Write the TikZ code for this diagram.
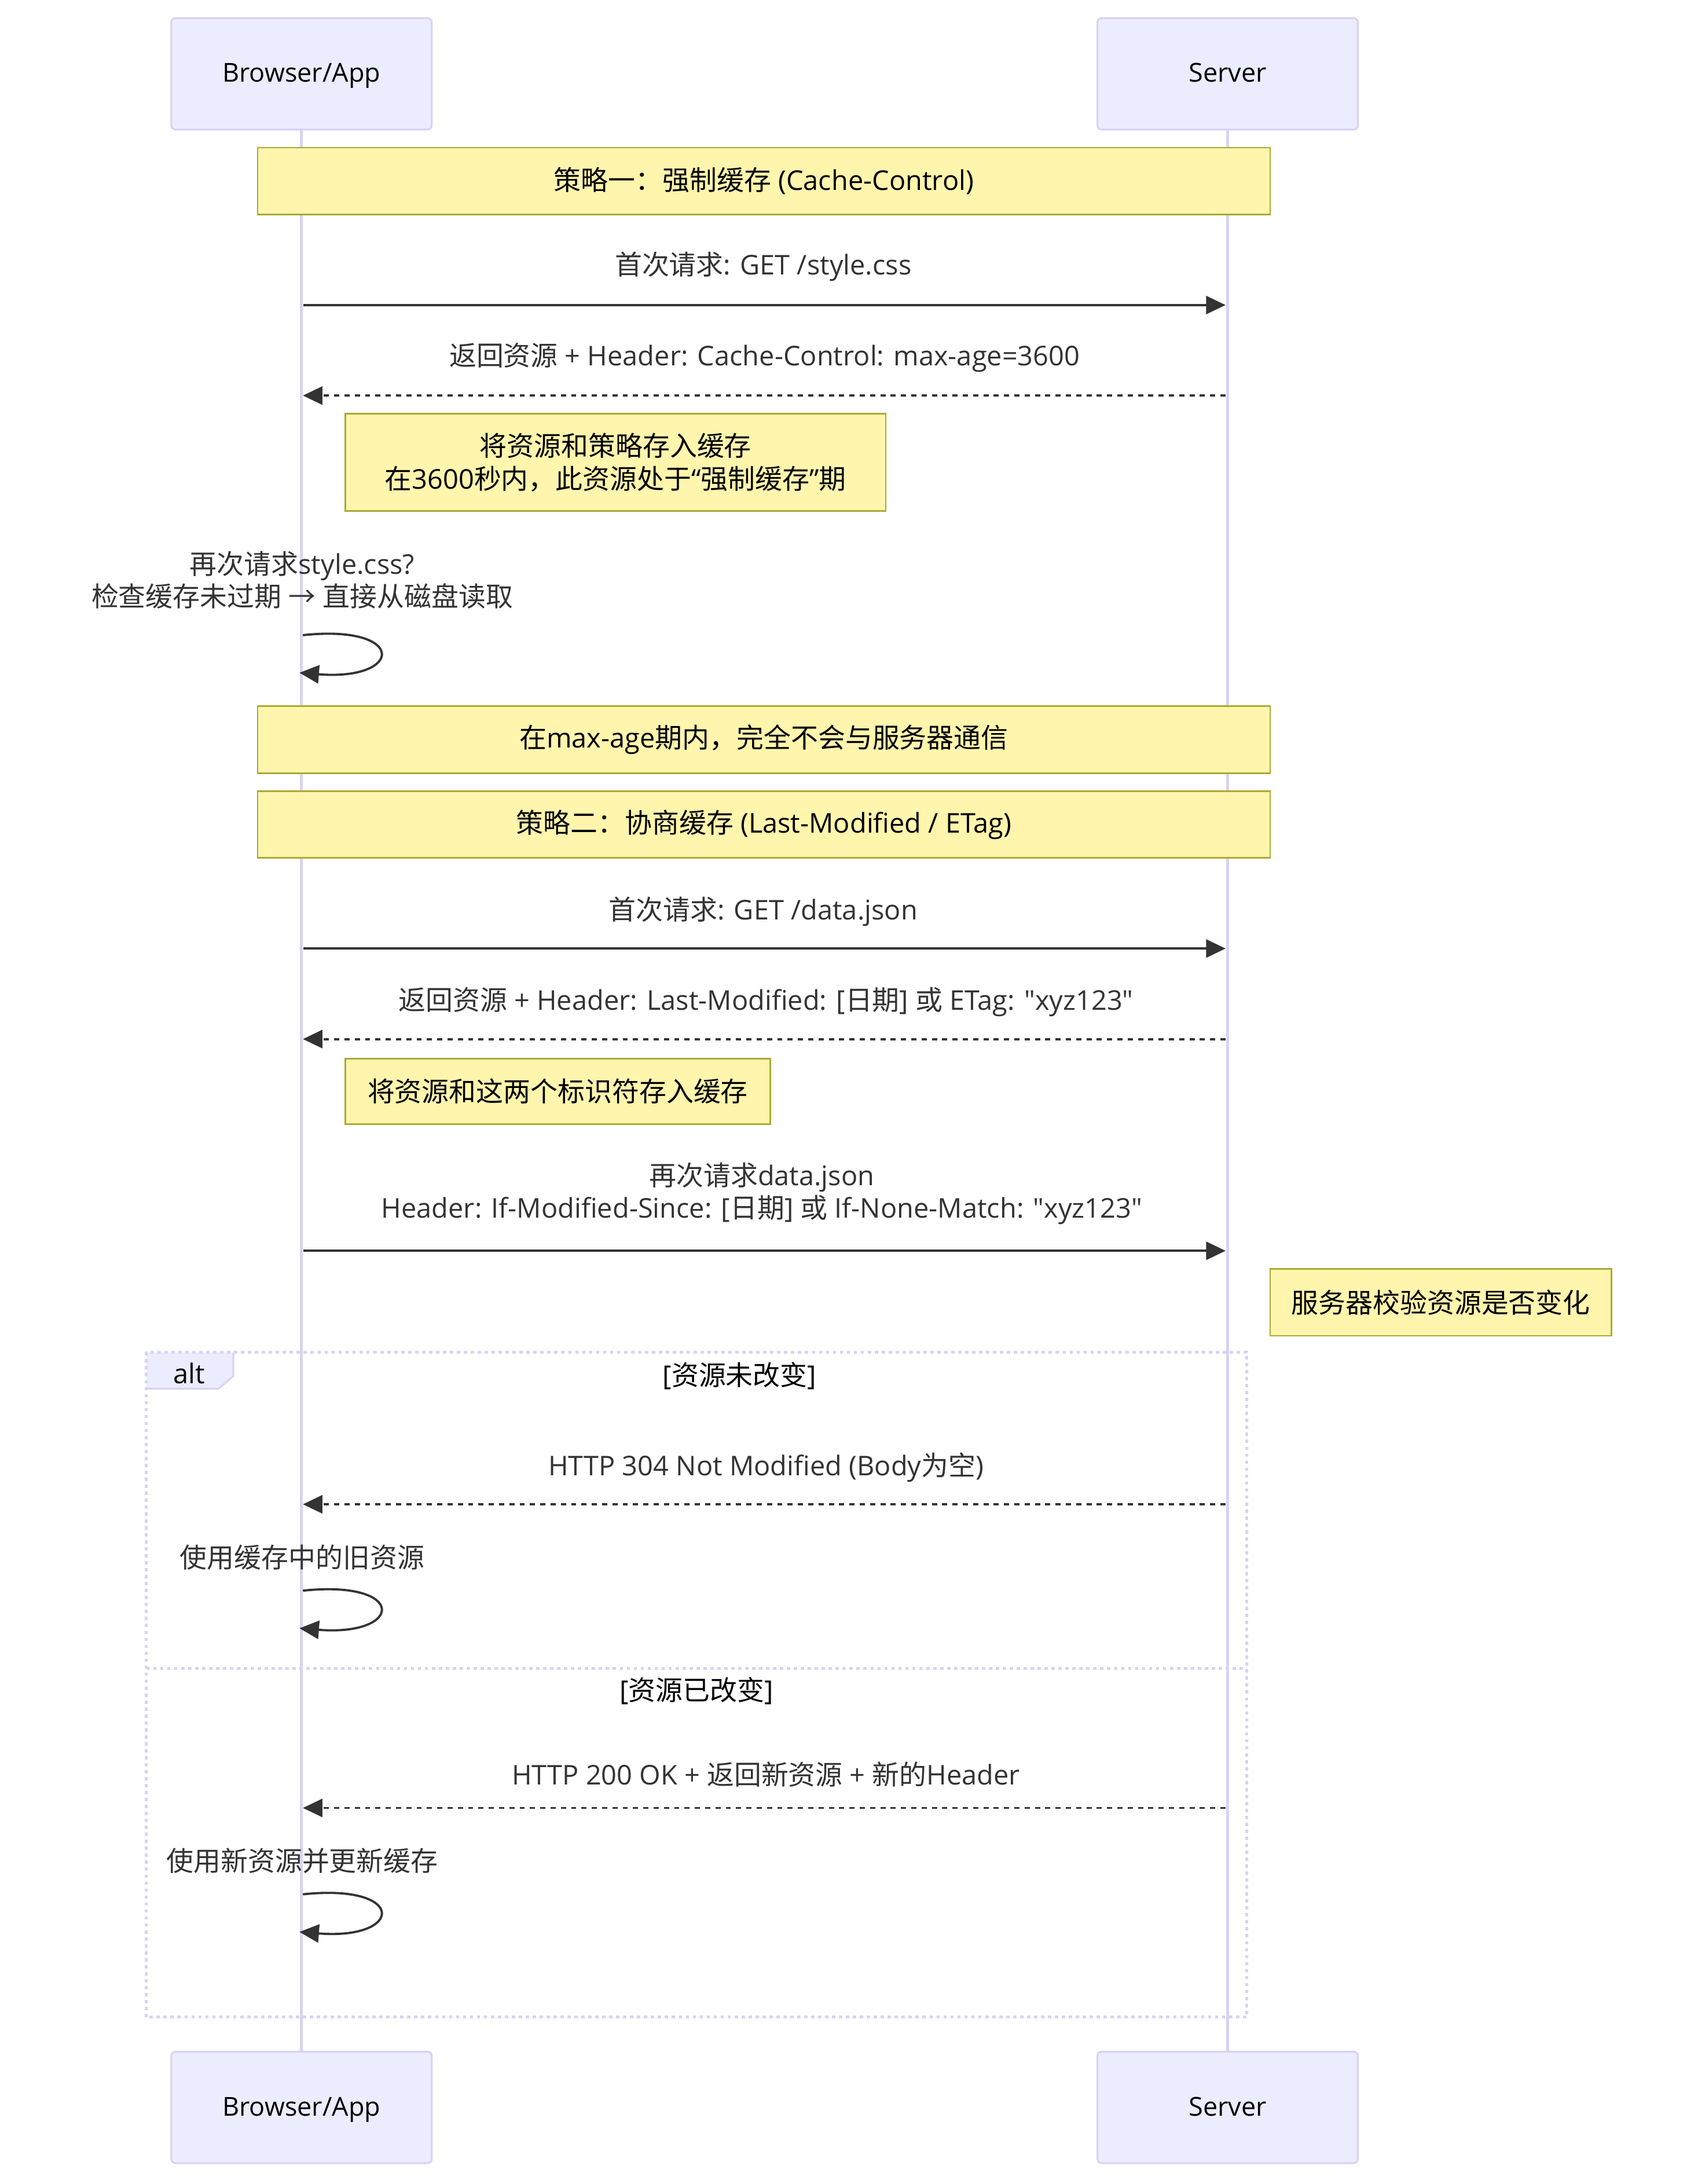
\documentclass[tikz,border=0pt]{standalone}
\usepackage{fontspec}
\setmainfont{Open Sans}
\newfontfamily\cjkfont{Noto Sans CJK SC}
\newcommand{\zhs}[1]{{\cjkfont #1}}
\newcommand{\dq}{\textquotedbl}
\usetikzlibrary{arrows.meta}

\definecolor{actorfill}{HTML}{ECECFF}
\definecolor{actorline}{HTML}{D9D2F3}
\definecolor{notefill}{HTML}{FFF5AD}
\definecolor{noteline}{HTML}{AAAA33}
\definecolor{ink}{HTML}{333333}

\tikzset{
  actor/.style={draw=actorline, line width=1.3pt, fill=actorfill, rounded corners=3pt,
    minimum width=187pt, minimum height=80pt, inner sep=0pt,
    text height=16.5pt, text depth=4.5pt,
    font=\fontsize{18.7}{22}\selectfont},
  lifeline/.style={draw=actorline, line width=2pt},
  notebox/.style={draw=noteline, line width=1.2pt, fill=notefill, inner sep=0pt,
    align=center, font=\fontsize{19.5}{23.5}\selectfont},
  msgtext/.style={text=ink, inner sep=0pt, align=center,
    font=\fontsize{19.5}{23.5}\selectfont},
  plaintext/.style={text=black, inner sep=0pt, align=center,
    font=\fontsize{19.5}{23.5}\selectfont},
  msg/.style={draw=ink, line width=1.6pt, -{Triangle[length=14pt,width=13pt]}},
  reply/.style={msg, dash pattern=on 3.7pt off 3.7pt},
  framedots/.style={draw=actorline, line width=2.1pt, dash pattern=on 2.4pt off 2.6pt},
}

\begin{document}
\begin{tikzpicture}[x=1pt,y=-1pt]
\useasboundingbox[fill=white] (0,0) rectangle (1219,1568);

% participants
\node[actor] (bt) at (216.5,53) {Browser/App};
\node[actor] (st) at (881.5,53) {Server};
\node[actor] (bb) at (216.5,1513) {Browser/App};
\node[actor] (sb) at (881.5,1513) {Server};

% lifelines
\draw[lifeline] (bt.south) -- (bb.north);
\draw[lifeline] (st.south) -- (sb.north);

% ---- strategy 1: strong cache
\node[notebox, minimum width=727pt, minimum height=48pt] (n1) at (548.5,130)
  {\raisebox{-0.8pt}{\zhs{策略一：强制缓存} (Cache-Control)}};

\coordinate (b1) at (218,219);  \coordinate (s1) at (880,219);
\node[msgtext] (t1) at (548,191.5) {\zhs{首次请求}: GET /style.css};
\draw[msg] (b1) -- (s1);

\coordinate (s2) at (880,284);  \coordinate (b2) at (217.5,284);
\node[msgtext] (t2) at (549,256.5) {\zhs{返回资源} + Header: Cache-Control: max-age=3600};
\draw[reply] (s2) -- (b2);

\node[notebox, minimum width=388pt, minimum height=70pt] (n2) at (442,332)
  {\zhs{将资源和策略存入缓存}\\\zhs{在}3600\zhs{秒内，此资源处于}“\zhs{强制缓存}”\zhs{期}};

\node[msgtext] (t3) at (217,416.5)
  {\zhs{再次请求}style.css?\\\zhs{检查缓存未过期} \zhs{→} \zhs{直接从磁盘读取}};
\coordinate (l1a) at (217.5,456); \coordinate (l1b) at (215,483);
\draw[msg] (l1a) .. controls +(75,-8) and +(75,6) .. (l1b);

\node[notebox, minimum width=727pt, minimum height=48pt] (n3) at (548.5,531)
  {\raisebox{-0.8pt}{\zhs{在}max-age\zhs{期内，完全不会与服务器通信}}};

% ---- strategy 2: negotiated cache
\node[notebox, minimum width=727pt, minimum height=48pt] (n4) at (548.5,592)
  {\raisebox{-0.8pt}{\zhs{策略二：协商缓存} (Last-Modified / ETag)}};

\coordinate (b3) at (218,681);  \coordinate (s3) at (880,681);
\node[msgtext] (t4) at (548,654.5) {\zhs{首次请求}: GET /data.json};
\draw[msg] (b3) -- (s3);

\coordinate (s4) at (880,746);  \coordinate (b4) at (217.5,746);
\node[msgtext] (t5) at (550,719.5)
  {\zhs{返回资源} + Header: Last-Modified: [\zhs{日期}] \zhs{或} ETag: \dq xyz123\dq};
\draw[reply] (s4) -- (b4);

\node[notebox, minimum width=305pt, minimum height=47pt] (n5) at (400.5,783.5)
  {\raisebox{-0.8pt}{\zhs{将资源和这两个标识符存入缓存}}};

\coordinate (b5) at (218,898);  \coordinate (s5) at (880,898);
\node[msgtext] (t6) at (547,857)
  {\zhs{再次请求}data.json\\Header: If-Modified-Since: [\zhs{日期}] \zhs{或} If-None-Match: \dq xyz123\dq};
\draw[msg] (b5) -- (s5);

\node[notebox, minimum width=245pt, minimum height=48pt] (n6) at (1034.5,935)
  {\raisebox{-0.8pt}{\zhs{服务器校验资源是否变化}}};

% ---- alt frame
\node[inner sep=0pt, minimum width=790pt, minimum height=477pt] (alt) at (500,1209.5) {};
\fill[actorfill] (105,971) -- (167.5,971) -- (167.5,988) -- (157,997) -- (105,997) -- cycle;
\draw[actorline, line width=1.3pt] (167.5,971) -- (167.5,988) -- (157,997) -- (105,997);
\draw[framedots] (alt.north west) rectangle (alt.south east);
\draw[framedots] (105,1198) -- (895,1198);
\node[plaintext] (altlbl) at (136,986) {alt};
\node[plaintext] (c1) at (531,988) {[\zhs{资源未改变}]};
\node[plaintext] (c2) at (500,1214) {[\zhs{资源已改变}]};

\coordinate (s6) at (880,1080);  \coordinate (b6) at (217.5,1080);
\node[msgtext] (t7) at (550,1053.5) {HTTP 304 Not Modified (Body\zhs{为空})};
\draw[reply] (s6) -- (b6);

\node[msgtext] (t8) at (217,1118) {\zhs{使用缓存中的旧资源}};
\coordinate (l2a) at (217.5,1142); \coordinate (l2b) at (215,1169);
\draw[msg] (l2a) .. controls +(75,-8) and +(75,6) .. (l2b);

\coordinate (s7) at (880,1298);  \coordinate (b7) at (217.5,1298);
\node[msgtext] (t9) at (550,1274) {HTTP 200 OK + \zhs{返回新资源} + \zhs{新的}Header};
\draw[reply] (s7) -- (b7);

\node[msgtext] (t10) at (217,1336) {\zhs{使用新资源并更新缓存}};
\coordinate (l3a) at (217.5,1360); \coordinate (l3b) at (215,1387);
\draw[msg] (l3a) .. controls +(75,-8) and +(75,6) .. (l3b);

\end{tikzpicture}
\end{document}
